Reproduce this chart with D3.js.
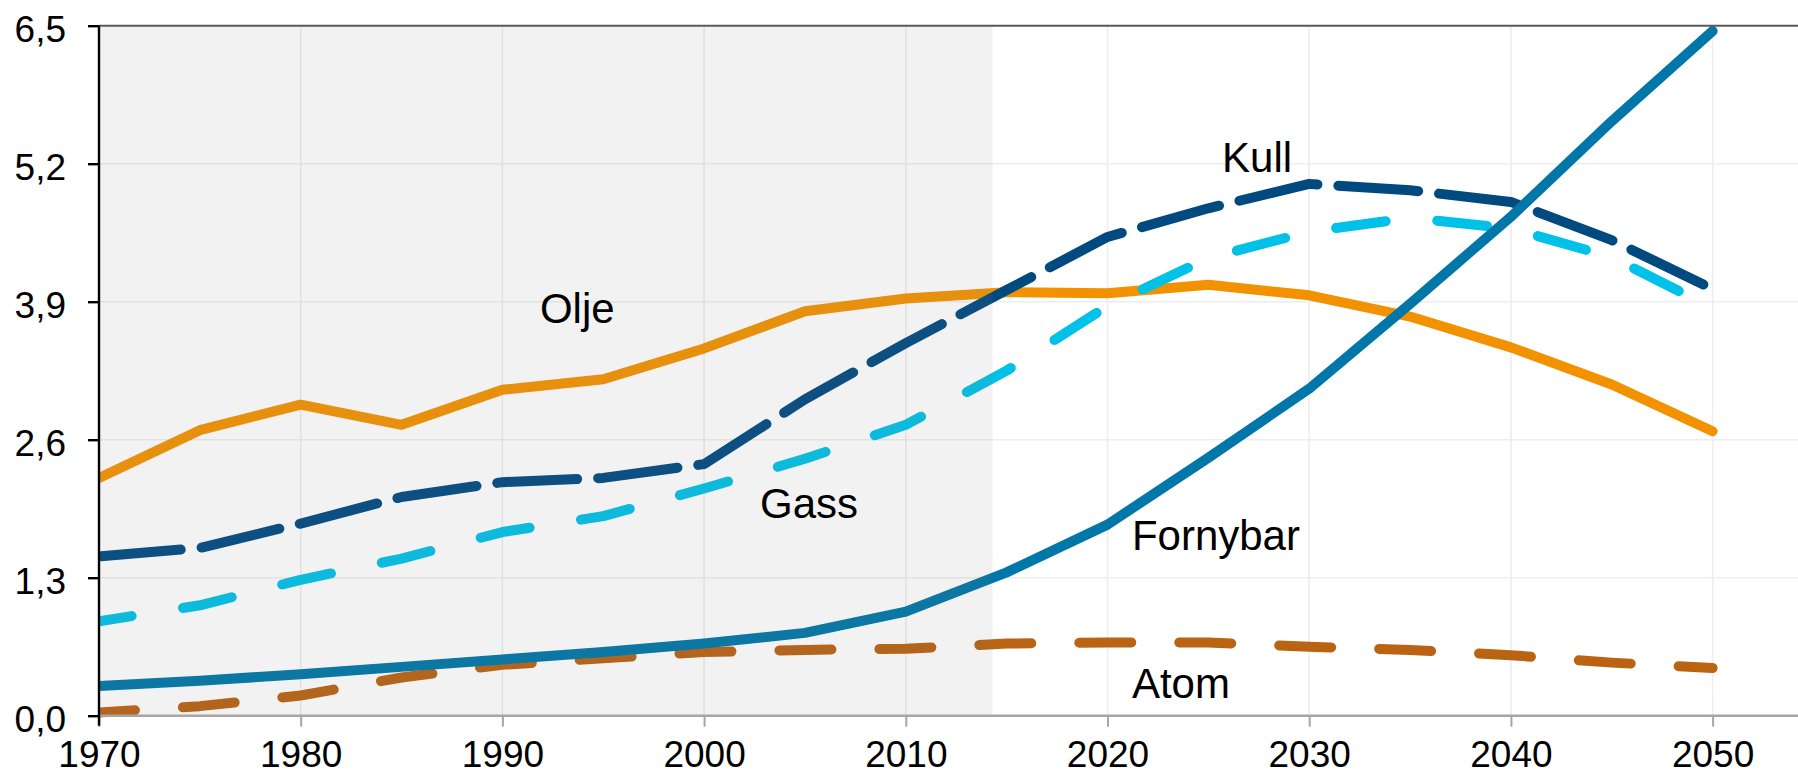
<!DOCTYPE html>
<html><head><meta charset="utf-8">
<script src="https://cdn.jsdelivr.net/npm/d3@7"></script>
<style>html,body{margin:0;padding:0;background:#fff;overflow:hidden}</style>
</head><body>
<svg id="chart" width="1798" height="780"></svg>
<script>
// ---- data ----
const years = [1970,1975,1980,1985,1990,1995,2000,2005,2010,2015,2020,2025,2030,2035,2040,2045,2050];
const olje     = [2.24,2.69,2.93,2.74,3.07,3.17,3.46,3.81,3.93,3.99,3.98,4.06,3.96,3.76,3.47,3.12,2.68];
const kull     = [1.50,1.58,1.81,2.06,2.20,2.24,2.37,2.98,3.51,4.01,4.51,4.78,5.01,4.95,4.84,4.48,4.02];
const gass     = [0.89,1.04,1.28,1.48,1.73,1.88,2.14,2.42,2.74,3.25,3.86,4.31,4.56,4.69,4.59,4.32,3.84];
const fornybar = [0.28,0.33,0.39,0.46,0.53,0.60,0.68,0.78,0.98,1.35,1.80,2.43,3.08,3.88,4.70,5.60,6.45];
const atom     = [0.03,0.09,0.19,0.36,0.48,0.54,0.60,0.62,0.63,0.68,0.69,0.69,0.65,0.62,0.57,0.50,0.45];
const seriesNames = ["Atom","Olje","Gass","Kull","Fornybar"];
const yTicks = [0,1.3,2.6,3.9,5.2,6.5];
const yTickLabels = ["0,0","1,3","2,6","3,9","5,2","6,5"];
const xTicks = [1970,1980,1990,2000,2010,2020,2030,2040,2050];
const historyEnd = 2014.3;

// ---- layout / styles ----
const W = 1798, H = 780;
const mLeft = 99, mTop = 25.7, mBottom = 715.7;
const pxPerYear = 20.17;
const x = d3.scaleLinear().domain([1970, 2055]).range([mLeft, mLeft + 85 * pxPerYear]);
const y = d3.scaleLinear().domain([0, 6.5]).range([mBottom, mTop]);

const styles = {
  Atom:     {values: atom,     color: "#BA6312", dash: "52,48", offset: 16},
  Olje:     {values: olje,     color: "#F39200", dash: null,    offset: 0},
  Gass:     {values: gass,     color: "#00C1E7", dash: "50,52", offset: 17},
  Kull:     {values: kull,     color: "#004A80", dash: "80,21", offset: -2},
  Fornybar: {values: fornybar, color: "#0077A8", dash: null,    offset: 0}
};
const labelPos = {
  Olje: [1991.86, 3.70], Gass: [2002.77, 1.862], Kull: [2025.68, 5.122],
  Fornybar: [2021.21, 1.561], Atom: [2021.21, 0.167]
};

const svg = d3.select("#chart");
const font = "'Liberation Sans', Arial, sans-serif";

svg.append("defs").append("clipPath").attr("id","clip")
  .append("rect").attr("x", mLeft).attr("y", 0).attr("width", W).attr("height", H);

// gridlines
svg.append("g").selectAll("line").data(yTicks.slice(1,-1)).join("line")
  .attr("x1", mLeft).attr("x2", W).attr("y1", d=>y(d)).attr("y2", d=>y(d))
  .attr("stroke", "#EDEDED").attr("stroke-width", 1.6);
svg.append("g").selectAll("line").data(xTicks.slice(1)).join("line")
  .attr("x1", d=>x(d)).attr("x2", d=>x(d)).attr("y1", mTop).attr("y2", mBottom)
  .attr("stroke", "#EDEDED").attr("stroke-width", 1.6);

// lines
const line = d3.line().x((d,i)=>x(years[i])).y(d=>y(d));
const lg = svg.append("g").attr("clip-path","url(#clip)");
seriesNames.forEach(n => {
  const s = styles[n];
  const p = lg.append("path").datum(s.values)
    .attr("d", line).attr("fill","none")
    .attr("stroke", s.color).attr("stroke-width", 10)
    .attr("stroke-linecap","round").attr("stroke-linejoin","round");
  if (s.dash) p.attr("stroke-dasharray", s.dash).attr("stroke-dashoffset", s.offset);
});

// history shading overlay
svg.append("rect").attr("x", mLeft).attr("y", mTop)
  .attr("width", x(historyEnd) - mLeft).attr("height", mBottom - mTop)
  .attr("fill", "#808080").attr("fill-opacity", 0.1);

// top border
svg.append("line").attr("x1", mLeft).attr("x2", W).attr("y1", mTop).attr("y2", mTop)
  .attr("stroke", "#595959").attr("stroke-width", 2);

// x axis
const xAxis = d3.axisBottom(x).tickValues(xTicks).tickFormat(d3.format("d")).tickSize(11).tickPadding(14);
const xg = svg.append("g").attr("transform", `translate(0,${mBottom})`).call(xAxis);
xg.select(".domain").attr("stroke","#A6A6A6").attr("stroke-width",2.4)
  .attr("d", `M${mLeft},0H${W}`);
xg.selectAll(".tick line").attr("stroke","#A6A6A6").attr("stroke-width",2);
xg.selectAll(".tick text").attr("font-family", font).attr("font-size", 37).attr("fill","#000");

// y axis
const yAxis = d3.axisLeft(y).tickValues(yTicks).tickFormat((d,i)=>yTickLabels[i]).tickSize(11).tickPadding(22);
const yg = svg.append("g").attr("transform", `translate(${mLeft},0)`).call(yAxis);
yg.select(".domain").attr("stroke","#000").attr("stroke-width",2.4).attr("d", `M0,${mTop}V${mBottom+10}`);
yg.selectAll(".tick line").attr("stroke","#000").attr("stroke-width",2.4);
yg.selectAll(".tick text").attr("font-family", font).attr("font-size", 37).attr("fill","#000").attr("dy","0.42em");

// series labels
svg.append("g").selectAll("text").data(seriesNames).join("text")
  .attr("x", d=>x(labelPos[d][0])).attr("y", d=>y(labelPos[d][1]))
  .attr("font-family", font).attr("font-size", 42).attr("fill","#000")
  .text(d=>d);
</script>
</body></html>
